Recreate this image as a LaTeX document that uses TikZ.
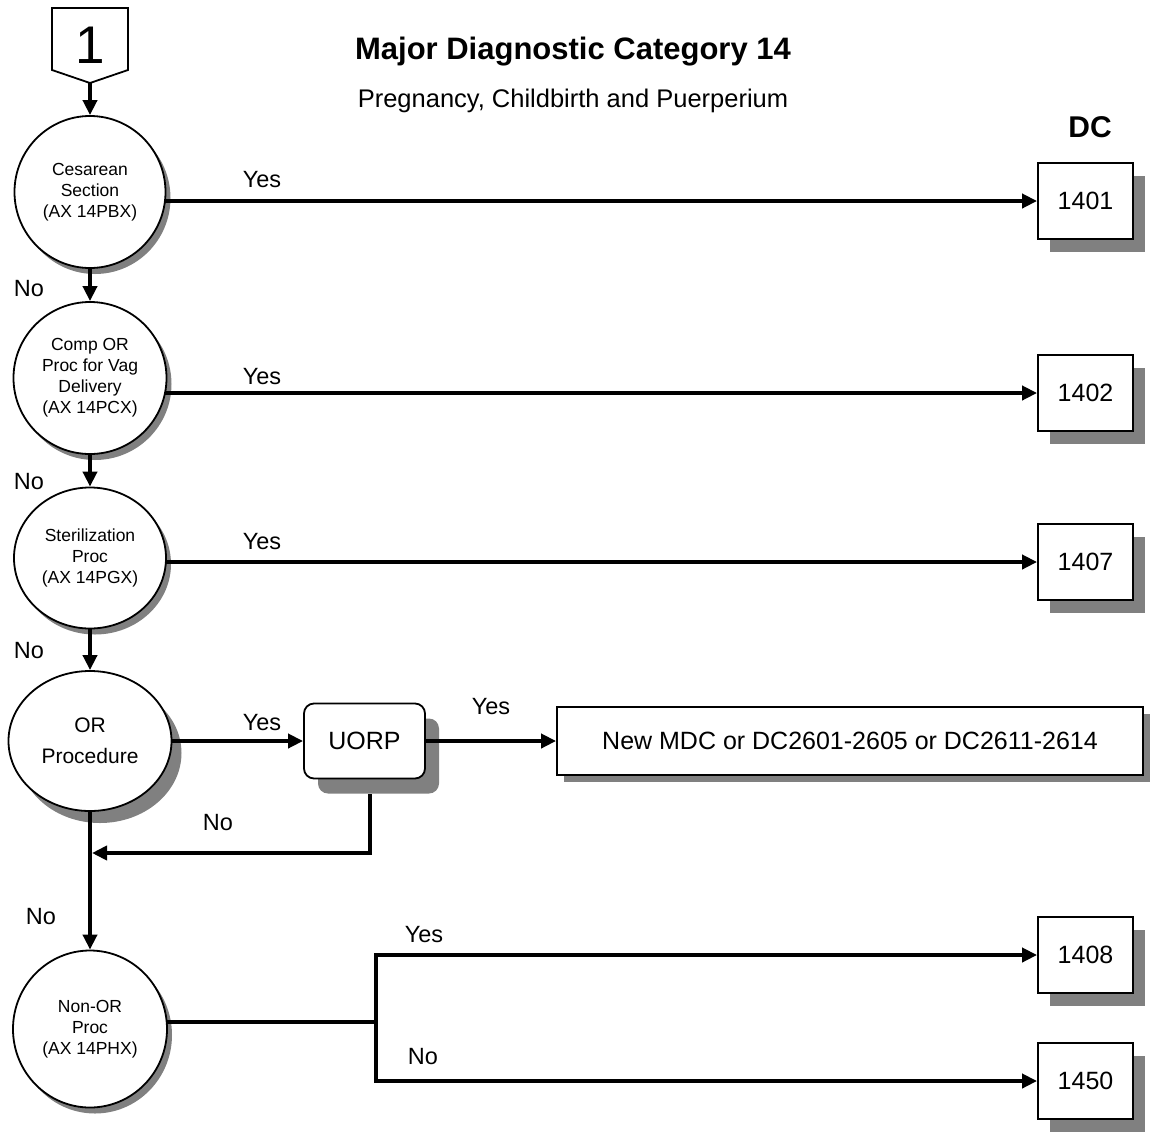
\documentclass[tikz,border=0pt]{standalone}
\usepackage{fontspec}
\setmainfont{Liberation Sans}
\usetikzlibrary{arrows.meta, positioning, shapes.geometric, shadows}
\usepackage{xcolor}
\definecolor{shadowc}{HTML}{808080}

\begin{document}
\begin{tikzpicture}[
    x=1pt, y=-1pt,
    >={Triangle[length=15pt, width=14pt]},
    conn/.style={line width=4pt},
    arr/.style={conn, ->},
    decbase/.style={ellipse, draw, line width=1.8pt, fill=white, inner sep=0pt, align=center,
      font=\fontsize{17.5}{21}\selectfont},
    dec/.style={decbase, drop shadow={shadow xshift=5pt, shadow yshift=-6pt, opacity=1, fill=shadowc}},
    bigdec/.style={decbase, font=\fontsize{21}{31}\selectfont,
      drop shadow={shadow xshift=10pt, shadow yshift=-12pt, opacity=1, fill=shadowc}},
    boxbase/.style={rectangle, draw, line width=1.8pt, fill=white, font=\fontsize{25}{30}\selectfont},
    dcbox/.style={boxbase, minimum width=95pt, minimum height=76pt,
      drop shadow={shadow xshift=12pt, shadow yshift=-13pt, opacity=1, fill=shadowc}},
    widebox/.style={boxbase, minimum width=586pt, minimum height=68pt,
      drop shadow={shadow xshift=7pt, shadow yshift=-7pt, opacity=1, fill=shadowc}},
    uorpbox/.style={boxbase, rounded corners=10pt, minimum width=121pt, minimum height=75pt,
      drop shadow={shadow xshift=14pt, shadow yshift=-15pt, opacity=1, fill=shadowc}},
    lbl/.style={font=\fontsize{23.5}{28}\selectfont}]

  \useasboundingbox (0,0) rectangle (1152,1136);

  % off-page connector
  \draw[line width=1.8pt, fill=white] (52,8) -- (128,8) -- (128,70) -- (90,83) -- (52,70) -- cycle;
  \node[font=\fontsize{53}{60}\selectfont] (start) at (90,45) {1};
  \coordinate (tip) at (90,83);

  % headings
  \node[font=\fontsize{31}{36}\selectfont\bfseries] (title) at (573,52) {Major Diagnostic Category 14};
  \node[font=\fontsize{25.5}{30}\selectfont] (subtitle) at (573,101) {Pregnancy, Childbirth and Puerperium};
  \node[font=\fontsize{30}{36}\selectfont\bfseries] (dc) at (1090,127) {DC};

  % decision column
  \node[dec, minimum width=151pt, minimum height=152pt] (c1) at (90,192) {Cesarean\\Section\\(AX 14PBX)};
  \node[dec, minimum width=153pt, minimum height=152pt] (c2) at (90,378) {Comp OR\\Proc for Vag\\Delivery\\(AX 14PCX)};
  \node[dec, minimum width=152pt, minimum height=141pt] (c3) at (90,558) {Sterilization\\Proc\\(AX 14PGX)};
  \node[bigdec, minimum width=163pt, minimum height=140pt] (c4) at (90,741) {OR\\Procedure};
  \node[dec, minimum width=154pt, minimum height=157pt] (c5) at (90,1029) {Non-OR\\Proc\\(AX 14PHX)};

  % DC boxes
  \foreach \name/\y in {1401/201, 1402/393, 1407/562, 1408/955, 1450/1081} {
    \node[dcbox] (b\name) at (1085.5,\y) {\name};
  }
  \node[uorpbox] (uorp) at (364.5,741) {UORP};
  \node[widebox] (newmdc) at (850,741) {New MDC or DC2601-2605 or DC2611-2614};

  % "No" down the column
  \draw[arr] (tip) -- (tip |- c1.north);
  \foreach \a/\b in {c1/c2, c2/c3, c3/c4, c4/c5} {
    \draw[arr] (\a) -- (\b);
  }
  \foreach \i/\x/\y in {1/29/289, 2/29/482, 3/29/651, 4/41/917} {
    \node[lbl] (no\i) at (\x,\y) {No};
  }

  % "Yes" to the DC boxes
  \foreach \c/\b in {c1/1401, c2/1402, c3/1407} {
    \draw[arr] ([xshift=-2pt]\c.east |- b\b.west) -- (b\b);
  }
  \foreach \i/\y in {1/180, 2/377, 3/542, 4/723} {
    \node[lbl] (yes\i) at (262,\y) {Yes};
  }

  % OR procedure branch
  \draw[arr] (c4) -- (uorp);
  \draw[arr] (uorp) -- (newmdc);
  \node[lbl] (yes5) at (491,707) {Yes};
  \coordinate (join) at (92,853);
  \draw[arr] ([xshift=5pt, yshift=-15pt]uorp.south) |- (join);
  \node[lbl] (no5) at (218,823) {No};

  % non-OR split
  \coordinate (split) at (376,1022);
  \draw[conn] ([xshift=-2pt]c5.east |- split) -- (split);
  \draw[arr] (split) |- (b1408);
  \draw[arr] (split) |- (b1450);
  \node[lbl] (yes6) at (424,935) {Yes};
  \node[lbl] (no6) at (423,1057) {No};
\end{tikzpicture}
\end{document}
